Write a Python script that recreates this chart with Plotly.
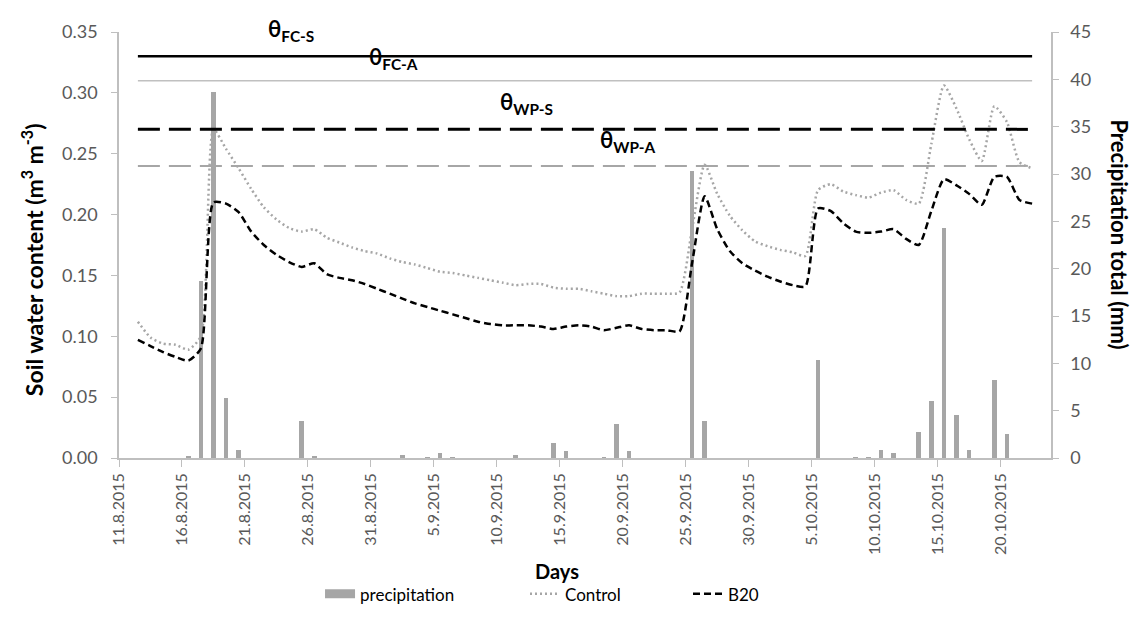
import pandas as pd
import plotly.graph_objects as go

# ---------------- data ----------------
start_day = "2015-08-12"
end_day = "2015-10-22"
control = [0.112, 0.099, 0.094, 0.093, 0.089, 0.100, 0.270, 0.254, 0.238, 0.221,
           0.206, 0.196, 0.189, 0.186, 0.188, 0.181, 0.177, 0.173, 0.170, 0.168,
           0.164, 0.161, 0.159, 0.156, 0.153, 0.152, 0.150, 0.148, 0.146, 0.144,
           0.142, 0.143, 0.143, 0.140, 0.139, 0.139, 0.137, 0.135, 0.133, 0.133,
           0.135, 0.135, 0.135, 0.136, 0.188, 0.241, 0.217, 0.199, 0.187, 0.178,
           0.174, 0.171, 0.169, 0.166, 0.220, 0.225, 0.219, 0.216, 0.214, 0.218,
           0.220, 0.212, 0.209, 0.258, 0.306, 0.287, 0.262, 0.244, 0.289, 0.276,
           0.243, 0.238]
b20 = [0.097, 0.092, 0.087, 0.083, 0.080, 0.090, 0.210, 0.209, 0.202, 0.186,
       0.175, 0.167, 0.161, 0.157, 0.160, 0.151, 0.148, 0.146, 0.143, 0.139,
       0.135, 0.131, 0.127, 0.124, 0.121, 0.118, 0.115, 0.112, 0.110, 0.109,
       0.109, 0.109, 0.108, 0.106, 0.108, 0.109, 0.108, 0.105, 0.107, 0.109,
       0.106, 0.105, 0.105, 0.104, 0.160, 0.215, 0.188, 0.170, 0.160, 0.154,
       0.149, 0.145, 0.142, 0.141, 0.205, 0.203, 0.193, 0.186, 0.185, 0.186,
       0.188, 0.180, 0.175, 0.203, 0.229, 0.224, 0.217, 0.208, 0.231, 0.231,
       0.212, 0.209]

precip_dates = ["2015-08-16", "2015-08-17", "2015-08-18", "2015-08-19", "2015-08-20",
                "2015-08-25", "2015-08-26", "2015-09-02", "2015-09-04", "2015-09-05",
                "2015-09-06", "2015-09-11", "2015-09-14", "2015-09-15", "2015-09-18",
                "2015-09-19", "2015-09-20", "2015-09-25", "2015-09-26", "2015-10-05",
                "2015-10-08", "2015-10-09", "2015-10-10", "2015-10-11", "2015-10-13",
                "2015-10-14", "2015-10-15", "2015-10-16", "2015-10-17", "2015-10-19",
                "2015-10-20"]
precip_mm = [0.2, 18.7, 38.7, 6.3, 0.8,
             3.9, 0.2, 0.3, 0.1, 0.5,
             0.1, 0.3, 1.6, 0.7, 0.1,
             3.6, 0.7, 30.3, 3.9, 10.4,
             0.1, 0.1, 0.8, 0.5, 2.7,
             6.0, 24.3, 4.5, 0.8, 8.2,
             2.5]

ref_names = ["FC-S", "FC-A", "WP-S", "WP-A"]
ref_values = [0.33, 0.31, 0.27, 0.24]

tick_start = "2015-08-11"
tick_end = "2015-10-20"

# ---------------- figure ----------------
half = pd.Timedelta(hours=12)
days = pd.date_range(start_day, end_day) + half
pdays = pd.to_datetime(precip_dates) + half

FONT = "Lato"
GRAY_TXT = "#595959"
AXC = "#bfbfbf"
BAR_C = "#a6a6a6"

fig = go.Figure()

fig.add_trace(go.Bar(
    x=pdays, y=precip_mm, name="precipitation", yaxis="y",
    marker=dict(color=BAR_C, line=dict(width=0)),
    width=0.37 * 86400000, showlegend=False,
))
# legend entry for the bars (wide swatch like the reference)
fig.add_trace(go.Scatter(
    x=[None], y=[None], name="precipitation", yaxis="y", mode="lines",
    line=dict(color=BAR_C, width=9), legend="legend",
))
fig.add_trace(go.Scatter(
    x=days, y=control, name="Control", yaxis="y2", mode="lines",
    line=dict(color="#a6a6a6", width=2.5, dash="2px,3px", shape="spline", smoothing=0.6),
    legend="legend2",
))
fig.add_trace(go.Scatter(
    x=days, y=b20, name="B20", yaxis="y2", mode="lines",
    line=dict(color="#000000", width=2.5, dash="7px,4px", shape="spline", smoothing=0.6),
    legend="legend3",
))

ref_styles = [
    dict(color="#000000", width=2.5, dash="solid"),
    dict(color="#c0c0c0", width=1.5, dash="solid"),
    dict(color="#000000", width=3, dash="22px,9px"),
    dict(color="#a6a6a6", width=2, dash="22px,9px"),
]
for nm, val, st in zip(ref_names, ref_values, ref_styles):
    fig.add_trace(go.Scatter(
        x=[days[0], days[-1]], y=[val, val], mode="lines", yaxis="y2",
        line=st, showlegend=False, name=nm, hoverinfo="skip",
    ))

# theta labels
label_pos = [(0.185, 1.004), (0.294, 0.939), (0.437, 0.834), (0.546, 0.745)]
for nm, (px, py) in zip(ref_names, label_pos):
    fig.add_annotation(
        text=f"<b>θ<sub>{nm}</sub></b>", xref="paper", yref="paper",
        x=px, y=py, xanchor="center", yanchor="middle", showarrow=False,
        font=dict(family=FONT, size=22, color="#000000"),
    )

fig.add_annotation(
    text="<b>Soil water content (m<sup>3</sup> m<sup>-3</sup>)</b>",
    xref="paper", yref="paper", x=-0.092, y=0.465, textangle=-90,
    xanchor="center", yanchor="middle", showarrow=False,
    font=dict(family=FONT, size=23, color="#000000"),
)
fig.add_annotation(
    text="<b>Precipitation total (mm)</b>",
    xref="paper", yref="paper", x=1.074, y=0.525, textangle=90,
    xanchor="center", yanchor="middle", showarrow=False,
    font=dict(family=FONT, size=22, color="#000000"),
)
fig.add_annotation(
    text="<b>Days</b>", xref="paper", yref="paper", x=0.470, y=-0.265,
    xanchor="center", yanchor="middle", showarrow=False,
    font=dict(family=FONT, size=20, color="#000000"),
)

leg_common = dict(orientation="h", yanchor="middle", xanchor="left", y=-0.32,
                  font=dict(family=FONT, size=17, color="#000000"),
                  bgcolor="rgba(0,0,0,0)")

fig.update_layout(
    width=1142, height=617,
    margin=dict(l=111, r=99, t=16, b=161),
    paper_bgcolor="white", plot_bgcolor="white",
    font=dict(family=FONT, size=15, color=GRAY_TXT),
    bargap=0,
    xaxis=dict(
        type="date",
        range=["2015-08-11", "2015-10-24"],
        tickmode="array",
        tickvals=pd.date_range(tick_start, tick_end, freq="5D"),
        tickformat="%-d.%-m.%Y",
        tickangle=-90,
        ticks="outside", ticklen=7, tickcolor=AXC,
        showline=True, linecolor=AXC, linewidth=1.5,
        showgrid=False, zeroline=False,
        tickfont=dict(family=FONT, size=16, color=GRAY_TXT),
    ),
    yaxis=dict(
        side="right", range=[0, 45], dtick=5, tick0=0,
        ticks="outside", ticklen=6, tickcolor=AXC,
        showline=True, linecolor=AXC, linewidth=1.5,
        showgrid=False, zeroline=False, ticklabelstandoff=8,
        tickfont=dict(family=FONT, size=18, color=GRAY_TXT),
    ),
    yaxis2=dict(
        side="left", overlaying="y", range=[0, 0.35], dtick=0.05, tick0=0,
        tickformat=".2f",
        ticks="outside", ticklen=6, tickcolor=AXC,
        showline=True, linecolor=AXC, linewidth=1.5,
        showgrid=False, zeroline=False, ticklabelstandoff=10,
        tickfont=dict(family=FONT, size=18, color=GRAY_TXT),
    ),
    legend=dict(x=0.2157, **leg_common),
    legend2=dict(x=0.4356, **leg_common),
    legend3=dict(x=0.6105, **leg_common),
    showlegend=True,
)

fig.write_html("out.html")
